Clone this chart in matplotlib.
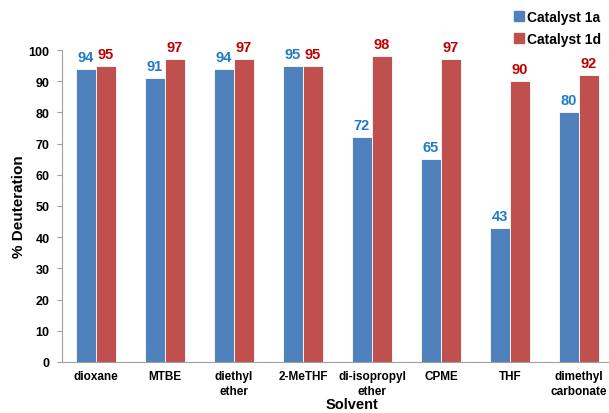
import matplotlib.pyplot as plt
import numpy as np
from matplotlib.patches import Patch

plt.rcParams['font.family'] = ['Liberation Sans', 'DejaVu Sans']

# data
solvents = ['dioxane', 'MTBE', 'diethyl\nether', '2-MeTHF', 'di-isopropyl\nether',
            'CPME', 'THF', 'dimethyl\ncarbonate']
cat_1a = [94, 91, 94, 95, 72, 65, 43, 80]
cat_1d = [95, 97, 97, 95, 98, 97, 90, 92]
yticks = [0, 10, 20, 30, 40, 50, 60, 70, 80, 90, 100]

blue = '#4F81BD'
red = '#C0504D'
blue_txt = '#1F7BC8'
red_txt = '#C00000'

W, H = 609, 414
fig = plt.figure(figsize=(W/100, H/100), dpi=100)
# axes runs a little past the right edge, as in the reference
ax = fig.add_axes([61.5/W, (H-363)/H, 552/W, 312/H])

x = np.arange(len(solvents))
w = 0.29
ax.bar(x - w/2, cat_1a, w, color=blue, edgecolor='white', linewidth=0.6)
ax.bar(x + w/2, cat_1d, w, color=red, edgecolor='white', linewidth=0.6)

for i in range(len(solvents)):
    ax.text(x[i] - w/2, cat_1a[i] + 1.6, str(cat_1a[i]), ha='center', va='bottom',
            color=blue_txt, fontsize=10.5, fontweight='bold')
    ax.text(x[i] + w/2, cat_1d[i] + 1.6, str(cat_1d[i]), ha='center', va='bottom',
            color=red_txt, fontsize=10.5, fontweight='bold')

ax.set_xlim(-0.5, len(solvents) - 0.5)
ax.set_ylim(0, 100)
ax.set_yticks(yticks)
ax.set_xticks(x)
ax.set_xticklabels(solvents, fontsize=8.5, fontweight='bold', linespacing=1.3)
for lab in ax.get_yticklabels():
    lab.set_fontweight('bold')
    lab.set_fontsize(9)
ax.tick_params(axis='x', length=0, pad=6)
ax.tick_params(axis='y', length=3.5, width=0.8, color='#A0A0A0', pad=5)

for s in ['top', 'right']:
    ax.spines[s].set_visible(False)
for s in ['left', 'bottom']:
    ax.spines[s].set_color('#A0A0A0')
    ax.spines[s].set_linewidth(0.8)

fig.text(19/W, 1 - 207/H, '% Deuteration', rotation=90, ha='center', va='center',
         fontsize=11, fontweight='bold')
fig.text(352/W, 1 - 405/H, 'Solvent', ha='center', va='center',
         fontsize=10.5, fontweight='bold')

handles = [Patch(color=blue), Patch(color=red)]
leg = fig.legend(handles, ['Catalyst 1a', 'Catalyst 1d'], loc='upper left',
                 bbox_to_anchor=(514/W, 1 - 11/H), frameon=False,
                 prop={'weight': 'bold', 'size': 10}, handlelength=0.7,
                 handleheight=0.7, handletextpad=0.25, labelspacing=0.55,
                 borderpad=0, borderaxespad=0)

fig.savefig('out.png', dpi=100)
